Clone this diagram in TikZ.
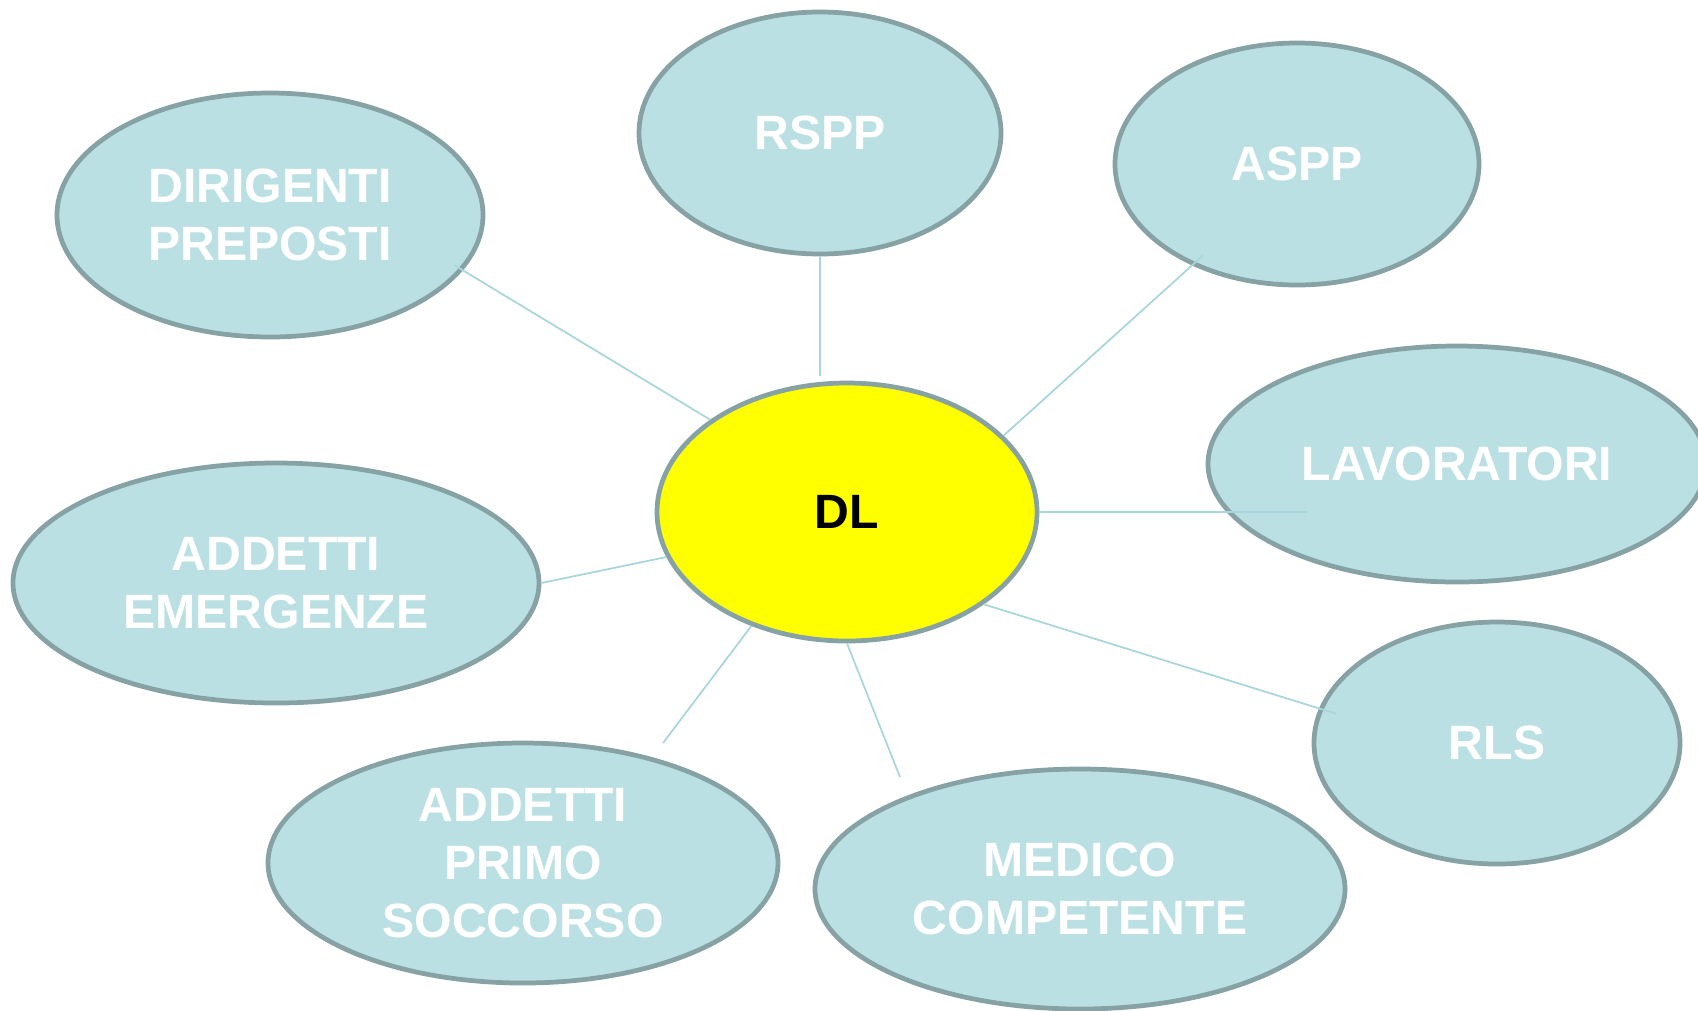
\documentclass[tikz,border=0pt]{standalone}
\usepackage{fontspec}
\setmainfont{Liberation Sans}
\usetikzlibrary{shapes.geometric}
\definecolor{rolefill}{RGB}{187,224,227}
\definecolor{rolerim}{RGB}{134,162,164}
\definecolor{linkblue}{RGB}{168,214,220}
\definecolor{bossyellow}{RGB}{255,255,0}

\begin{document}
\begin{tikzpicture}[
    role/.style={ellipse, draw=rolerim, line width=1.35pt, fill=rolefill, inner sep=0pt,
      text=white, align=center, font=\bfseries\fontsize{13.7}{16.5}\selectfont},
    link/.style={draw=linkblue, line width=0.5pt}]
    \useasboundingbox (0,0) rectangle (16.98,-10.10);

    \node[role, minimum width=4.26cm, minimum height=2.44cm] (dir) at (2.70,-2.15) {DIRIGENTI\\PREPOSTI};
    \node[role, minimum width=3.62cm, minimum height=2.42cm] (rspp) at (8.20,-1.33) {RSPP};
    \node[role, minimum width=3.64cm, minimum height=2.42cm] (aspp) at (12.97,-1.64) {ASPP};
    \node[role, minimum width=4.98cm, minimum height=2.36cm] (lav) at (14.57,-4.64) {LAVORATORI};
    \node[role, minimum width=5.26cm, minimum height=2.40cm] (emer) at (2.76,-5.83) {ADDETTI\\EMERGENZE};
    \node[role, minimum width=5.10cm, minimum height=2.40cm] (primo) at (5.23,-8.63) {ADDETTI\\PRIMO\\SOCCORSO};
    \node[role, minimum width=5.30cm, minimum height=2.40cm] (medico) at (10.80,-8.89) {MEDICO\\COMPETENTE};
    \node[role, minimum width=3.66cm, minimum height=2.42cm] (rls) at (14.97,-7.43) {RLS};
    \node[role, fill=bossyellow, text=black, minimum width=3.80cm, minimum height=2.58cm] (dl) at (8.47,-5.12) {DL};

    % free ends
    \coordinate (rspptip) at (8.20,-3.76);
    \coordinate (lavtip) at (13.07,-5.12);
    \coordinate (primotip) at (6.63,-7.43);
    \coordinate (medtip) at (9.00,-7.77);

    \draw[link, shorten <=-0.1cm] (dir.344) -- (dl.146);
    \draw[link] (rspp.south) -- (rspptip);
    \draw[link, shorten <=-0.15cm] (aspp.224) -- (dl.26);
    \draw[link] (dl.east) -- (lavtip);
    \draw[link] (emer.east) -- (dl.194);
    \draw[link] (dl.230) -- (primotip);
    \draw[link] (dl.south) -- (medtip);
    \draw[link, shorten >=-0.18cm] (dl.-34) -- (rls.169);
\end{tikzpicture}
\end{document}
